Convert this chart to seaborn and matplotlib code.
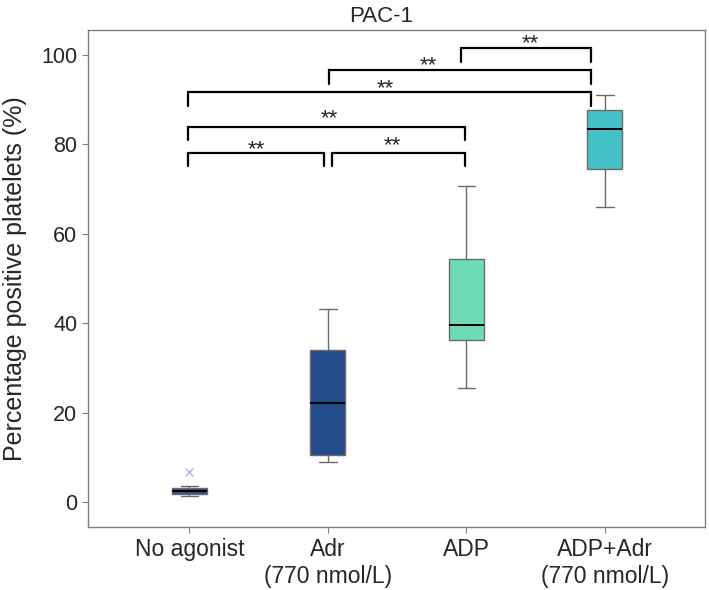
import numpy as np
import pandas as pd
import seaborn as sns
import matplotlib
matplotlib.use("Agg")
import matplotlib.pyplot as plt

# values (n=9 per group)
groups = ["No agonist", "Adr\n(770 nmol/L)", "ADP", "ADP+Adr\n(770 nmol/L)"]
no_agonist = [1.4, 1.6, 1.7, 2.1, 2.4, 2.7, 3.0, 3.6, 6.6]
adr = [8.9, 9.8, 10.5, 15.0, 22.1, 27.0, 34.0, 39.0, 43.2]
adp = [25.5, 31.0, 36.2, 37.5, 39.6, 46.0, 54.4, 62.0, 70.7]
adp_adr = [66.0, 70.0, 74.5, 79.0, 83.4, 85.5, 87.7, 89.5, 91.0]
colors = ["#2f5090", "#224c8e", "#6ddcb4", "#45c0c6"]

# significance brackets: (start, end, line height, label x, label centre y)
brackets = [
    (1.965, 2.899, 101.5, 2.459, 103.2),
    (1.005, 2.899, 96.6, 1.729, 98.2),
    (-0.013, 2.899, 91.7, 1.412, 93.1),
    (-0.013, 1.989, 83.9, 1.007, 86.4),
    (-0.013, 0.973, 78.1, 0.480, 79.5),
    (1.031, 1.989, 78.1, 1.469, 80.4),
]
drop = 3.0

df = pd.DataFrame({
    "group": np.repeat(groups, 9),
    "value": no_agonist + adr + adp + adp_adr,
})

sns.set_style("white")
plt.rcParams["font.family"] = ["Liberation Sans", "DejaVu Sans"]

fig = plt.figure(figsize=(7.09, 5.9), dpi=100)
ax = fig.add_axes([0.124, 0.107, 0.87, 0.842])

sns.boxplot(data=df, x="group", y="value", hue="group", order=groups,
            palette=colors, saturation=1, width=0.253,
            linecolor="#6a6a6a", linewidth=1,
            medianprops={"color": "black", "linewidth": 1.4},
            flierprops={"marker": "x", "markeredgecolor": "#a8b8e8",
                        "markersize": 6, "markeredgewidth": 1},
            legend=False, ax=ax)

for x0, x1, h, tx, ty in brackets:
    ax.plot([x0, x0, x1, x1], [h - drop, h, h, h - drop],
            color="black", lw=1.6, solid_joinstyle="miter")
    # star ink sits high in the em box; shift baseline down
    ax.text(tx, ty - 1.9, "**", ha="center", va="baseline", fontsize=16)

ax.set_xlim(-0.733, 3.722)
ax.set_ylim(-5.6, 105.6)
ax.set_yticks([0, 20, 40, 60, 80, 100])
ax.set_xlabel("")
ax.set_ylabel("Percentage positive platelets (%)", fontsize=18)
ax.yaxis.set_label_coords(-0.099, 0.5)
ax.set_title("PAC-1", fontsize=16, x=0.476, pad=5.8)
ax.tick_params(axis="y", labelsize=15.5, length=4, color="#808080",
               direction="out", left=True)
ax.tick_params(axis="x", labelsize=16.5, length=4, color="#808080",
               direction="out", bottom=True, pad=4)
for lbl in ax.get_xticklabels():
    lbl.set_linespacing(1.25)
for s in ax.spines.values():
    s.set_color("#808080")
    s.set_linewidth(1)

fig.savefig("out.png", dpi=100)
